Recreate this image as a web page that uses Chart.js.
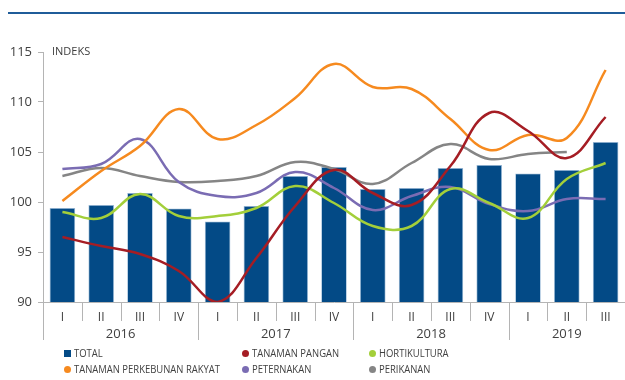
<!DOCTYPE html>
<html>
<head>
<meta charset="utf-8">
<script src="https://cdn.jsdelivr.net/npm/chart.js@4"></script>
<style>
  body { margin: 0; background: #fff; font-family: "Open Sans", sans-serif; }
  #wrap { position: relative; width: 625px; height: 380px; }
  #topline { position: absolute; left: 8px; right: 0; top: 12px; height: 2px; background: #1f5c99; }
  #legend { position: absolute; left: 0; top: 346px; width: 625px; font-size: 11px; color: #404040; }
  .item { position: absolute; white-space: nowrap; line-height: 14px; }
  .item i { position: absolute; left: -10px; top: 3.5px; width: 7px; height: 7px; border-radius: 50%; }
  .item i.sq { border-radius: 0; }
  .item span { display: inline-block; transform: scaleX(0.86); transform-origin: left center; }
</style>
</head>
<body>
<div id="wrap">
  <div id="topline"></div>
  <canvas id="chart" width="625" height="380"></canvas>
  <div id="legend"></div>
</div>
<script>
  const quarters = ["I", "II", "III", "IV", "I", "II", "III", "IV", "I", "II", "III", "IV", "I", "II", "III"];
  const years = ["2016", "2017", "2018", "2019"];
  const quartersPerYear = [4, 4, 4, 3];

  const total = [99.4, 99.7, 100.9, 99.35, 98.05, 99.6, 102.6, 103.5, 101.3, 101.4, 103.4, 103.7, 102.85, 103.2, 106.0];
  const tanamanPangan = [96.5, 95.6, 94.8, 93.1, 90.0, 94.4, 99.6, 103.2, 100.9, 99.7, 103.6, 108.9, 107.1, 104.4, 108.5];
  const hortikultura = [99.0, 98.4, 100.8, 98.6, 98.6, 99.4, 101.6, 99.9, 97.6, 97.6, 101.3, 99.9, 98.4, 102.3, 103.9];
  const perkebunanRakyat = [100.1, 103.1, 105.6, 109.3, 106.3, 107.7, 110.4, 113.8, 111.5, 111.3, 108.3, 105.2, 106.7, 106.4, 113.2];
  const peternakan = [103.3, 103.8, 106.3, 102.0, 100.6, 100.9, 103.0, 101.4, 99.2, 100.6, 101.5, 99.8, 99.1, 100.3, 100.3];
  const perikanan = [102.6, 103.4, 102.6, 102.0, 102.1, 102.6, 104.0, 103.3, 101.8, 103.9, 105.8, 104.3, 104.8, 105.0, null];

  const textColor = "#404040";
  const axisColor = "#b4b4b4";

  function line(label, data, color) {
    return {
      type: "line",
      label: label,
      data: data,
      borderColor: color,
      backgroundColor: color,
      borderWidth: 2.5,
      pointRadius: 0,
      tension: 0.4,
      fill: false,
      order: 1,
    };
  }

  // Year row, separators and the unit label
  const periodAxis = {
    id: "periodAxis",
    afterDraw(chart) {
      const ctx = chart.ctx;
      const x = chart.scales.x;
      const area = chart.chartArea;
      const half = (x.getPixelForValue(1) - x.getPixelForValue(0)) / 2;
      const edge = (i) => x.getPixelForValue(i) - half;

      ctx.save();
      ctx.strokeStyle = axisColor;
      ctx.lineWidth = 1;
      let start = 0;
      const yearStarts = [];
      quartersPerYear.forEach((n) => { yearStarts.push(start); start += n; });

      for (let i = 0; i < quarters.length; i++) {
        const px = Math.round(edge(i)) + 0.5;
        const long = yearStarts.includes(i);
        ctx.beginPath();
        ctx.moveTo(px, area.bottom);
        ctx.lineTo(px, area.bottom + (long ? 38 : 19));
        ctx.stroke();
      }

      ctx.fillStyle = textColor;
      ctx.font = "13px 'Open Sans'";
      ctx.textAlign = "center";
      ctx.textBaseline = "middle";
      years.forEach((yr, k) => {
        const a = edge(yearStarts[k]);
        const b = edge(yearStarts[k] + quartersPerYear[k]);
        ctx.fillText(yr, (a + b) / 2, area.bottom + 32);
      });

      ctx.font = "11px 'Open Sans'";
      ctx.textAlign = "left";
      ctx.fillText("INDEKS", area.left + 9, area.top);
      ctx.restore();
    },
  };

  const ctx = document.getElementById("chart").getContext("2d");
  const chart = new Chart(ctx, {
    data: {
      labels: quarters,
      datasets: [
        {
          type: "bar",
          label: "TOTAL",
          data: total,
          backgroundColor: "#034a86",
          borderColor: "#9dbcd8",
          borderWidth: 0.8,
          barPercentage: 0.66,
          categoryPercentage: 1,
          order: 10,
        },
        line("TANAMAN PANGAN", tanamanPangan, "#a51d24"),
        line("HORTIKULTURA", hortikultura, "#a3cf3a"),
        line("TANAMAN PERKEBUNAN RAKYAT", perkebunanRakyat, "#f68a1f"),
        line("PETERNAKAN", peternakan, "#7a6cb3"),
        line("PERIKANAN", perikanan, "#858585"),
      ],
    },
    options: {
      responsive: false,
      animation: false,
      layout: { padding: { top: 52, left: 0, right: 0, bottom: 0 } },
      plugins: { legend: { display: false }, tooltip: { enabled: false } },
      scales: {
        x: {
          grid: { display: false, drawTicks: false },
          border: { color: axisColor },
          ticks: { color: textColor, font: { family: "Open Sans", size: 12 }, padding: 8, maxRotation: 0, autoSkip: false },
          afterFit(scale) { scale.height = 78; },
        },
        y: {
          min: 90,
          max: 115,
          grid: { drawOnChartArea: false, drawTicks: true, tickLength: 5, color: axisColor },
          border: { color: axisColor },
          ticks: { stepSize: 5, color: textColor, font: { family: "Open Sans", size: 13 }, padding: 6 },
          afterFit(scale) { scale.width = 43; },
        },
      },
    },
    plugins: [periodAxis],
  });

  // Legend in three columns
  const legendItems = [
    { label: "TOTAL", color: "#034a86", square: true, left: 74, top: 0 },
    { label: "TANAMAN PANGAN", color: "#a51d24", left: 252, top: 0 },
    { label: "HORTIKULTURA", color: "#a3cf3a", left: 379, top: 0 },
    { label: "TANAMAN PERKEBUNAN RAKYAT", color: "#f68a1f", left: 74, top: 16 },
    { label: "PETERNAKAN", color: "#7a6cb3", left: 252, top: 16 },
    { label: "PERIKANAN", color: "#858585", left: 379, top: 16 },
  ];
  const legend = document.getElementById("legend");
  legendItems.forEach((it) => {
    const el = document.createElement("div");
    el.className = "item";
    el.style.left = it.left + "px";
    el.style.top = it.top + "px";
    el.innerHTML = `<i class="${it.square ? "sq" : ""}" style="background:${it.color}"></i><span>${it.label}</span>`;
    legend.appendChild(el);
  });
</script>
</body>
</html>
